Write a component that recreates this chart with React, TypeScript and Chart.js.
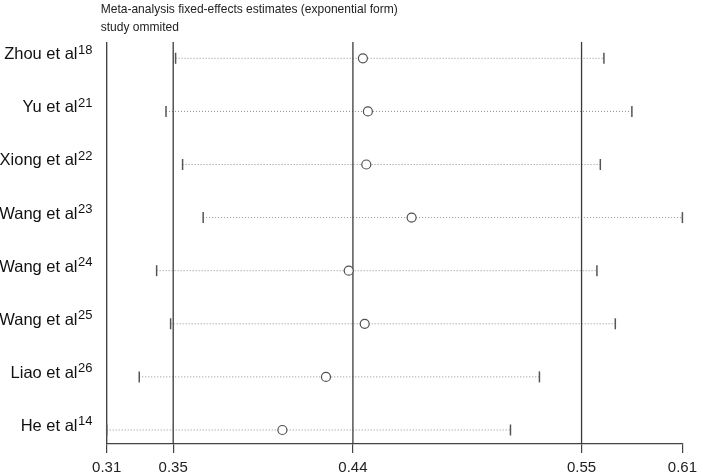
import React, { useEffect, useRef } from "react";
import { Chart, registerables } from "chart.js";
Chart.register(...registerables);

const studies = ["Zhou et al", "Yu et al", "Xiong et al", "Wang et al", "Wang et al", "Wang et al", "Liao et al", "He et al"];
const refNumbers = ["18", "21", "22", "23", "24", "25", "26", "14"];
const estimates = [0.4408, 0.4433, 0.4425, 0.4652, 0.4337, 0.4417, 0.4223, 0.4005];
const lowerCI = [0.347, 0.3422, 0.3505, 0.3608, 0.3375, 0.3445, 0.3288, 0.3125];
const upperCI = [0.5615, 0.5755, 0.5597, 0.6008, 0.558, 0.5672, 0.5292, 0.5147];
const tickValues = [0.3125, 0.3458, 0.4358, 0.5503, 0.6008];
const tickLabels = ["0.31", "0.35", "0.44", "0.55", "0.61"];
const referenceLines = [0.3125, 0.3458, 0.4358, 0.5503];
const titleLines = ["Meta-analysis fixed-effects estimates (exponential form)", "study ommited"];

const FONT = '"Liberation Sans", Arial, Helvetica, sans-serif';
const Y_MIN = 0.736;
const Y_MAX = 8.307;

export default function App() {
  const ref = useRef<HTMLCanvasElement | null>(null);
  useEffect(() => {
    const canvas = ref.current;
    if (!canvas) return;
    const n = studies.length;
    const rowY = (i: number) => n - i;

    const datasets: any[] = [];
    studies.forEach((_, i) => {
      datasets.push({
        type: "scatter",
        data: [
          { x: lowerCI[i], y: rowY(i) },
          { x: upperCI[i], y: rowY(i) },
        ],
        showLine: true,
        borderColor: "#8c8c8c",
        borderWidth: 1,
        borderDash: [1, 2],
        pointRadius: 0,
        clip: false,
        order: 4,
      });
    });
    referenceLines.forEach((v) => {
      datasets.push({
        type: "scatter",
        data: [
          { x: v, y: Y_MIN },
          { x: v, y: Y_MAX },
        ],
        showLine: true,
        borderColor: "#3a3a3a",
        borderWidth: 1.3,
        pointRadius: 0,
        clip: false,
        order: 3,
      });
    });
    datasets.push({
      type: "scatter",
      data: studies.flatMap((_, i) => [
        { x: lowerCI[i], y: rowY(i) },
        { x: upperCI[i], y: rowY(i) },
      ]),
      pointStyle: "line",
      rotation: 90,
      radius: 5.5,
      borderColor: "#555",
      borderWidth: 1.5,
      clip: false,
      order: 2,
    });
    datasets.push({
      type: "scatter",
      data: studies.map((_, i) => ({ x: estimates[i], y: rowY(i) })),
      pointStyle: "circle",
      radius: 4.5,
      borderColor: "#505050",
      backgroundColor: "#ffffff",
      borderWidth: 1.2,
      clip: false,
      order: 1,
    });

    const textPlugin = {
      id: "forestText",
      afterDraw(chart: any) {
        const ctx = chart.ctx;
        const ys = chart.scales.y;
        ctx.save();
        ctx.fillStyle = "#222";
        ctx.textBaseline = "alphabetic";
        ctx.textAlign = "left";
        ctx.font = `13px ${FONT}`;
        const w0 = ctx.measureText(titleLines[0]).width;
        const sx = 297 / w0;
        ctx.save();
        ctx.translate(100.7, 0);
        ctx.scale(sx, 1);
        ctx.fillText(titleLines[0], 0, 12.9);
        ctx.fillText(titleLines[1], 0, 30.5);
        ctx.restore();
        ctx.fillStyle = "#111";
        const right = 92.5;
        studies.forEach((name, i) => {
          const y = ys.getPixelForValue(rowY(i));
          ctx.font = `13px ${FONT}`;
          const sw = ctx.measureText(refNumbers[i]).width;
          ctx.textAlign = "right";
          ctx.fillText(refNumbers[i], right, y - 4.5);
          ctx.font = `16.5px ${FONT}`;
          ctx.fillText(name, right - sw - 0.5, y + 1);
        });
        ctx.restore();
      },
    };

    const chart = new Chart(canvas, {
      type: "scatter",
      data: { datasets },
      options: {
        animation: false,
        responsive: false,
        maintainAspectRatio: false,
        layout: { padding: { left: 106.7, right: 19.7, top: 42, bottom: 0 } },
        plugins: { legend: { display: false }, tooltip: { enabled: false }, title: { display: false } },
        scales: {
          x: {
            type: "linear",
            min: tickValues[0],
            max: tickValues[tickValues.length - 1],
            afterBuildTicks: (scale: any) => {
              scale.ticks = tickValues.map((v) => ({ value: v }));
            },
            afterFit: (scale: any) => {
              scale.height = 31;
            },
            ticks: {
              autoSkip: false,
              maxRotation: 0,
              padding: 6,
              color: "#222",
              font: { family: FONT, size: 15 },
              callback: (_v: any, idx: number) => tickLabels[idx],
            },
            grid: {
              drawOnChartArea: false,
              drawTicks: true,
              tickLength: 9,
              color: "#444",
              lineWidth: 1.2,
            },
            border: { display: true, color: "#444", width: 1.2 },
          },
          y: {
            type: "linear",
            display: false,
            min: Y_MIN,
            max: Y_MAX,
          },
        },
      },
      plugins: [textPlugin],
    } as any);
    return () => chart.destroy();
  }, []);
  return (
    <div style={{ position: "fixed", left: 0, top: 0, width: 703, height: 475, background: "#fff" }}>
      <canvas ref={ref} width={703} height={475} style={{ display: "block" }} />
    </div>
  );
}
